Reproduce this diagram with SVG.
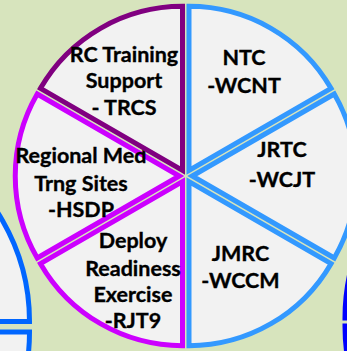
<svg xmlns="http://www.w3.org/2000/svg" width="347" height="351" viewBox="0 0 347 351">
  <style>
    .bg { fill: #D7E4BD; }
    .slice { fill: #F2F2F2; stroke-width: 5; stroke-linejoin: miter; }
    .blue { stroke: #3399FF; }
    .magenta { stroke: #CC00FF; }
    .plum { stroke: #800080; }
    .side-l { fill: #F2F2F2; stroke: #0066FF; stroke-width: 5; }
    .side-r { fill: #F2F2F2; stroke: #0000FF; stroke-width: 5; }
    .lbl { font-family: "Lato", "Liberation Sans", sans-serif; font-weight: bold; font-size: 21.5px; fill: #000; stroke: #000; stroke-width: 0.35; text-anchor: middle; }
  </style>

  <rect class="bg" x="0" y="0" width="347" height="351"/>

  <!-- neighbouring cycle, left -->
  <g id="left-cycle">
    <path class="side-l" d="M-172.5,321.5 L29.5,321.5 A202,202 0 0 0 -71.5,146.5 Z"/>
    <path class="side-l" d="M-172.5,332 L29.5,332 A202,202 0 0 1 -71.5,507 Z"/>
  </g>

  <!-- neighbouring cycle, right -->
  <g id="right-cycle">
    <path class="side-r" d="M547,318 L345,318 A202,202 0 0 1 446,143 Z"/>
    <path class="side-r" d="M547,326 L345,326 A202,202 0 0 0 446,501 Z"/>
  </g>

  <!-- six slices around centre (185.75,176) -->
  <g id="ntc">
    <path class="slice blue" d="M189,170.37 L189,6.37 A164,164 0 0 1 331.03,88.37 Z"/>
    <text class="lbl" x="244" y="65">NTC</text>
    <text class="lbl" x="244" y="93">-WCNT</text>
  </g>

  <g id="jrtc">
    <path class="slice blue" d="M192.25,176 L334.28,94 A164,164 0 0 1 334.28,258 Z"/>
    <text class="lbl" x="282" y="157">JRTC</text>
    <text class="lbl" x="282" y="186.5">-WCJT</text>
  </g>

  <g id="jmrc">
    <path class="slice blue" d="M189,181.63 L331.03,263.63 A164,164 0 0 1 189,345.63 Z"/>
    <text class="lbl" x="240.5" y="260.5">JMRC</text>
    <text class="lbl" x="240.5" y="288">-WCCM</text>
  </g>

  <g id="rjt9">
    <path class="slice magenta" d="M182.5,181.63 L182.5,345.63 A164,164 0 0 1 40.47,263.63 Z"/>
    <text class="lbl" x="133" y="248">Deploy</text>
    <text class="lbl" x="133" y="276">Readiness</text>
    <text class="lbl" x="133" y="302">Exercise</text>
    <text class="lbl" x="133" y="328">-RJT9</text>
  </g>

  <g id="hsdp">
    <path class="slice magenta" d="M179.25,176 L37.22,258 A164,164 0 0 1 37.22,94 Z"/>
    <text class="lbl" x="81" y="163">Regional Med</text>
    <text class="lbl" x="81" y="190.5">Trng Sites</text>
    <text class="lbl" x="81" y="216.5">-HSDP</text>
  </g>

  <g id="trcs">
    <path class="slice plum" d="M182.5,170.37 L40.47,88.37 A164,164 0 0 1 182.5,6.37 Z"/>
    <text class="lbl" x="124" y="61.5">RC Training</text>
    <text class="lbl" x="124" y="88">Support</text>
    <text class="lbl" x="124" y="115">- TRCS</text>
  </g>
</svg>
